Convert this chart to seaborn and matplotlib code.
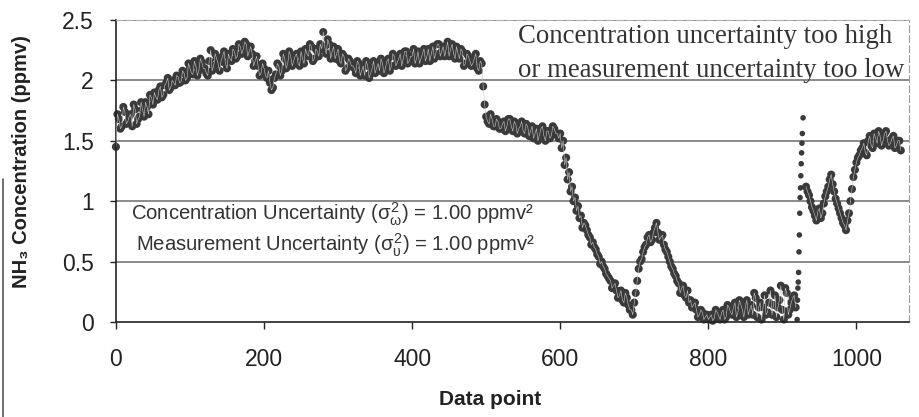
import numpy as np
import pandas as pd
import seaborn as sb
import matplotlib
matplotlib.use("Agg")
from matplotlib import pyplot as plt
from matplotlib.lines import Line2D

## readings taken off the chart, one every 4 data points (points 0, 4, 8, ...)
step = 4
nh3_first = [
    1.45, 1.68, 1.62, 1.74, 1.66, 1.72, 1.80, 1.64, 1.70, 1.76,
    1.82, 1.72, 1.86, 1.90, 1.84, 1.95, 1.88, 1.98, 1.92, 2.00,
    1.96, 2.03, 1.99, 2.06, 2.02, 2.10, 2.05, 2.12, 2.08, 2.15,
    2.10, 2.04, 2.25, 2.12, 2.18, 2.08, 2.20, 2.14, 2.22, 2.16,
    2.24, 2.20, 2.28, 2.26, 2.30, 2.24, 2.22, 2.16, 2.12, 2.06,
    2.10, 2.02, 1.98, 1.94, 2.05, 2.12, 2.08, 2.18, 2.14, 2.20,
    2.16, 2.22, 2.12, 2.18, 2.26, 2.20, 2.28, 2.18, 2.24, 2.30,
    2.40, 2.22, 2.30, 2.24, 2.18, 2.26, 2.14, 2.20, 2.10, 2.16,
    2.12, 2.06, 2.14, 2.08, 2.04, 2.12, 2.06, 2.16, 2.10, 2.08,
    2.14, 2.10, 2.18, 2.12, 2.20, 2.15, 2.22, 2.18, 2.24, 2.16,
    2.20, 2.14, 2.24, 2.18, 2.26, 2.20, 2.16, 2.28, 2.22, 2.30,
    2.24, 2.20, 2.32, 2.26, 2.22, 2.28, 2.18, 2.24, 2.14, 2.20,
    2.12, 2.18, 2.10, 2.16, 1.95, 1.70, 1.64, 1.68, 1.62, 1.66,
    1.60, 1.66, 1.62, 1.68, 1.58, 1.64, 1.60, 1.66, 1.56, 1.62,
    1.58, 1.52, 1.60, 1.55, 1.62, 1.50, 1.58, 1.54, 1.60, 1.56,
    1.56, 1.50, 1.36, 1.24, 1.12, 1.03, 0.96, 0.88, 0.82, 0.76,
    0.70, 0.66, 0.60, 0.54, 0.50, 0.44, 0.38, 0.34, 0.30, 0.26,
    0.22, 0.18, 0.24, 0.14, 0.10, 0.16, 0.34, 0.50, 0.58, 0.64,
    0.72, 0.68, 0.78, 0.74, 0.70, 0.64, 0.58, 0.50, 0.44, 0.38,
    0.32, 0.28, 0.22, 0.26, 0.18, 0.14, 0.10, 0.06, 0.08, 0.04,
    0.02, 0.06, 0.03, 0.08, 0.02, 0.10, 0.04, 0.12, 0.06, 0.16,
    0.08, 0.14, 0.04, 0.18, 0.10, 0.06, 0.20, 0.12, 0.02, 0.22,
    0.08, 0.26, 0.14, 0.04, 0.18, 0.10, 0.28, 0.06, 0.16, 0.22,
]
## readings in between (points 2, 6, 10, ...)
nh3_first_mid = [
    1.72, 1.60, 1.78, 1.64, 1.70, 1.62, 1.76, 1.68, 1.82, 1.70,
    1.78, 1.88, 1.80, 1.86, 1.92, 1.86, 1.96, 2.02, 1.94, 1.98,
    2.04, 1.98, 2.08, 2.00, 2.14, 2.06, 2.16, 2.04, 2.18, 2.10,
    2.06, 2.16, 2.08, 2.22, 2.14, 2.16, 2.24, 2.10, 2.18, 2.26,
    2.18, 2.30, 2.22, 2.32, 2.20, 2.28, 2.12, 2.20, 2.04, 2.14,
    2.04, 2.08, 1.92, 2.02, 2.14, 2.04, 2.22, 2.10, 2.24, 2.12,
    2.20, 2.14, 2.24, 2.14, 2.22, 2.30, 2.16, 2.26, 2.20, 2.26,
    2.28, 2.34, 2.18, 2.28, 2.22, 2.16, 2.22, 2.08, 2.18, 2.12,
    2.10, 2.16, 2.04, 2.12, 2.16, 2.02, 2.10, 2.06, 2.14, 2.18,
    2.06, 2.16, 2.08, 2.22, 2.12, 2.18, 2.12, 2.24, 2.14, 2.20,
    2.26, 2.18, 2.14, 2.22, 2.16, 2.26, 2.22, 2.18, 2.30, 2.20,
    2.28, 2.26, 2.20, 2.30, 2.18, 2.22, 2.26, 2.12, 2.22, 2.16,
    2.14, 2.22, 2.08, 2.14, 1.80, 1.66, 1.72, 1.62, 1.68, 1.60,
    1.64, 1.58, 1.68, 1.62, 1.66, 1.56, 1.62, 1.58, 1.64, 1.54,
    1.62, 1.56, 1.50, 1.60, 1.54, 1.58, 1.52, 1.62, 1.56, 1.52,
    1.44, 1.30, 1.18, 1.08, 1.00, 0.92, 0.86, 0.78, 0.80, 0.72,
    0.64, 0.62, 0.56, 0.48, 0.46, 0.40, 0.36, 0.28, 0.32, 0.20,
    0.26, 0.16, 0.20, 0.10, 0.06, 0.24, 0.44, 0.52, 0.62, 0.70,
    0.66, 0.74, 0.82, 0.68, 0.72, 0.60, 0.54, 0.46, 0.40, 0.34,
    0.24, 0.30, 0.20, 0.16, 0.12, 0.16, 0.04, 0.10, 0.02, 0.06,
    0.04, 0.01, 0.10, 0.05, 0.08, 0.02, 0.14, 0.08, 0.12, 0.04,
    0.18, 0.10, 0.12, 0.06, 0.14, 0.24, 0.04, 0.16, 0.12, 0.06,
    0.16, 0.06, 0.22, 0.12, 0.30, 0.02, 0.24, 0.10, 0.20, 0.12,
]
## the jump near point 925
jump_x = [920, 920.5, 921, 921.5, 922, 922.5, 923, 923.5, 924, 924.5, 925, 925.5, 926, 926.5, 927, 928]
jump_y = [0.02, 0.18, 0.28, 0.33, 0.41, 0.58, 0.72, 0.90, 1.03, 1.11, 1.21, 1.31, 1.40, 1.48, 1.56, 1.69]
second_start = 932
nh3_second = [
    1.12, 1.05, 0.95, 0.88, 0.92, 0.86, 0.98, 1.08, 1.18, 1.14,
    1.02, 0.94, 0.86, 0.80, 0.84, 1.00, 1.20, 1.32, 1.38, 1.44,
    1.40, 1.50, 1.46, 1.56, 1.48, 1.54, 1.50, 1.58, 1.46, 1.52,
    1.44, 1.50, 1.42,
]
nh3_second_mid = [
    1.08, 1.00, 0.92, 0.84, 0.94, 0.90, 1.04, 1.12, 1.22, 1.08,
    0.98, 0.90, 0.82, 0.76, 0.90, 1.10, 1.26, 1.36, 1.42, 1.48,
    1.38, 1.54, 1.44, 1.52, 1.58, 1.46, 1.56, 1.50, 1.48, 1.54,
    1.46, 1.50,
]

x_ticks = [0, 200, 400, 600, 800, 1000]
y_ticks = [0, 0.5, 1, 1.5, 2, 2.5]


def readings(start, main, mid):
    a = pd.DataFrame({"point": start + np.arange(len(main)) * step, "nh3": main})
    b = pd.DataFrame({"point": start + 2 + np.arange(len(mid)) * step, "nh3": mid})
    return pd.concat([a, b]).sort_values("point").reset_index(drop=True)


first = readings(0, nh3_first, nh3_first_mid)
second = readings(second_start, nh3_second, nh3_second_mid)
jump = pd.DataFrame({"point": jump_x, "nh3": jump_y})

sb.set_style("white")
plt.rcParams["font.family"] = ["Liberation Sans", "DejaVu Sans"]
plt.rcParams["mathtext.fontset"] = "custom"
plt.rcParams["mathtext.rm"] = "Liberation Sans"
plt.rcParams["mathtext.it"] = "Liberation Sans"

fig = plt.figure(figsize=(9.2, 4.17), dpi=100)
ax = fig.add_axes([0.126, 0.228, 0.862, 0.724])

for yv in y_ticks[1:]:
    ax.axhline(yv, color="#8a8a8a", lw=1.4, zorder=0)

dot = "#3a3a3a"
for df in [first, second]:
    sb.scatterplot(x="point", y="nh3", data=df, ax=ax, s=34, color=dot,
                   edgecolor="none", clip_on=False, zorder=2)
    sb.lineplot(x="point", y="nh3", data=df, ax=ax, color="#c8c8c8", lw=0.4,
                sort=False, zorder=3)
sb.scatterplot(x="point", y="nh3", data=jump, ax=ax, s=16, color=dot,
               edgecolor="none", clip_on=False, zorder=2)

ax.set_xlim(0, 1071)
ax.set_ylim(0, 2.5)
ax.set_xticks(x_ticks)
ax.set_yticks(y_ticks)
ax.set_yticklabels(["0", "0.5", "1", "1.5", "2", "2.5"])
ax.tick_params(axis="x", bottom=True, direction="out", length=5, width=1, pad=14,
               labelsize=16.5, colors="#222222")
ax.tick_params(axis="y", left=True, direction="out", length=4, width=1, pad=12,
               labelsize=16.5, colors="#222222")

for side in ["left", "bottom"]:
    ax.spines[side].set_color("#222222")
    ax.spines[side].set_linewidth(1.2)
ax.spines["top"].set_color("#b0b0b0")
ax.spines["top"].set_linestyle((0, (6, 3)))
ax.spines["right"].set_color("#9a9a9a")
ax.spines["right"].set_linestyle((0, (6, 3)))

ax.set_xlabel("Data point", fontsize=15, fontweight="bold", color="#222222")
ax.set_ylabel("NH₃ Concentration (ppmv)", fontsize=14.5, fontweight="bold", color="#222222")
ax.xaxis.set_label_coords(0.472, -0.225)
ax.yaxis.set_label_coords(-0.107, 0.53)

ax.text(0.507, 0.947, "Concentration uncertainty too high", transform=ax.transAxes,
        family="Liberation Serif", fontsize=19.3, color="#333333", va="center")
ax.text(0.507, 0.834, "or measurement uncertainty too low", transform=ax.transAxes,
        family="Liberation Serif", fontsize=19.3, color="#333333", va="center")
ax.text(0.528, 0.355, r"Concentration Uncertainty ($\sigma^2_\omega$) = 1.00 ppmv²",
        transform=ax.transAxes, fontsize=14.6, color="#333333", ha="right", va="center")
ax.text(0.528, 0.255, r"Measurement Uncertainty ($\sigma^2_\upsilon$) = 1.00 ppmv²",
        transform=ax.transAxes, fontsize=14.6, color="#333333", ha="right", va="center")

## edge of the scanned page on the left
fig.add_artist(Line2D([0.003, 0.003], [0.0, 0.57], color="#555555", lw=1.2))

plt.savefig("out.png", dpi=100)
